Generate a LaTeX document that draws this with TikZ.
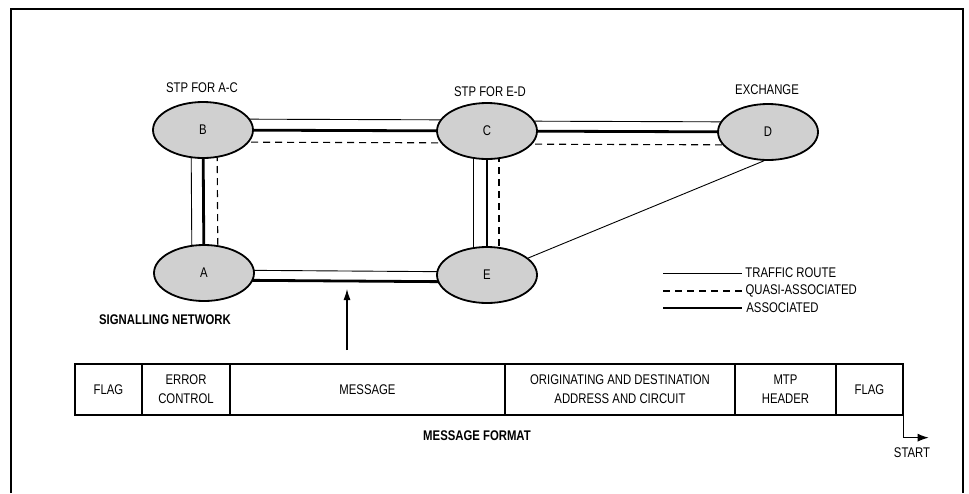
\documentclass[tikz,border=0pt]{standalone}
\usepackage{fontspec}
\setmainfont{Liberation Sans}[FakeStretch=0.81]
\definecolor{SSgray}{HTML}{D0D0D0}
\usetikzlibrary{shapes.geometric, arrows.meta, backgrounds, positioning}

\begin{document}
\begin{tikzpicture}[x=1pt, y=-1pt, font=\fontsize{14}{19}\selectfont,
    exch/.style={ellipse, draw, line width=1.8pt, fill=SSgray,
       minimum width=100pt, minimum height=56pt, inner sep=0pt},
    traffic/.style={line width=0.9pt},
    quasi/.style={line width=1.1pt, dash pattern=on 7pt off 5pt},
    assoc/.style={line width=2.8pt},
    cell/.style={draw, line width=1.3pt, minimum height=51pt,
       inner sep=0pt, align=center}]
   \useasboundingbox (0,0) rectangle (969,493);
   % Frame, open at the foot
   \draw[line width=1.3pt] (11,493) -- (11,9) -- (963,9) -- (963,493);
   % Signalling points
   \node[exch] (B) at (203,130) {B};
   \node[exch] (C) at (487,131) {C};
   \node[exch] (D) at (768,132) {D};
   \node[exch] (A) at (204,273) {A};
   \node[exch] (E) at (487,275) {E};
   \node (lB) at (202,88) {STP FOR A-C};
   \node (lC) at (490,92) {STP FOR E-D};
   \node (lD) at (767,90) {EXCHANGE};
   % Links, behind the ellipses
   \begin{scope}[on background layer]
      \fill[white] (0,0) rectangle (969,493);
      % B - C
      \draw[traffic] ([yshift=11pt]B.center) -- ([yshift=11pt]C.center);
      \draw[assoc] (B.center) -- (C.center);
      \draw[quasi] ([yshift=-12pt]B.center) -- ([yshift=-12pt]C.center);
      % C - D
      \draw[traffic] ([yshift=10pt]C.center) -- ([yshift=10pt]D.center);
      \draw[assoc] (C.center) -- (D.center);
      \draw[quasi] ([yshift=-13pt]C.center) -- ([yshift=-13pt]D.center);
      % B - A
      \draw[traffic] ([xshift=-12pt]B.center) -- ([xshift=-12pt]A.center);
      \draw[assoc] (B.center) -- (A.center);
      \draw[quasi] ([xshift=14pt]B.center) -- ([xshift=14pt]A.center);
      % C - E
      \draw[traffic] ([xshift=-14pt]C.center) -- ([xshift=-14pt]E.center);
      \draw[assoc] (C.center) -- (E.center);
      \draw[quasi] ([xshift=12pt]C.center) -- ([xshift=12pt]E.center);
      % A - E
      \draw[traffic] ([yshift=3pt]A.center) -- ([yshift=3pt]E.center);
      \draw[assoc] ([yshift=-7pt]A.center) -- ([yshift=-7pt]E.center);
   \end{scope}
   % Traffic route E - D
   \draw[traffic] (E) -- (D.262);
   \node (net) at (165,320) {\bfseries SIGNALLING NETWORK};
   % Legend
   \coordinate (k1) at (663,273);
   \coordinate (k2) at (663,291);
   \coordinate (k3) at (663,308);
   \draw[traffic] (k1) -- ++(79,0) node[right, inner sep=3pt] (t1) {TRAFFIC ROUTE};
   \draw[quasi] (k2) -- ++(79,0) node[right, inner sep=3pt] (t2) {QUASI-ASSOCIATED};
   \draw[assoc] (k3) -- ++(79,0) node[right, inner sep=3pt] (t3) {ASSOCIATED};
   % Message format
   \node[cell, minimum width=67pt] (flagL) at (108.5,389.5) {FLAG};
   \node[cell, minimum width=88pt] (err) at (186,389.5) {ERROR\\CONTROL};
   \node[cell, minimum width=275pt] (msg) at (367.5,389.5) {MESSAGE};
   \node[cell, minimum width=230pt] (orig) at (620,389.5)
      {ORIGINATING AND DESTINATION\\ADDRESS AND CIRCUIT};
   \node[cell, minimum width=101pt] (mtp) at (785.5,389.5) {MTP\\HEADER};
   \node[cell, minimum width=67pt] (flagR) at (869.5,389.5) {FLAG};
   \node (fmt) at (477,436) {\bfseries MESSAGE FORMAT};
   % Pointer from the format to the A - E link
   \coordinate (hit) at (347,289);
   \coordinate (tail) at (347,350);
   \draw[-{Latex[length=11pt,width=7pt]}, line width=1.1pt] (tail) -- (hit);
   % Start of transmission
   \draw[-{Latex[length=11pt,width=8pt]}, line width=1.1pt]
      (flagR.south east) -- ++(0,22) -- ++(25,0);
   \node (start) at (912,453) {START};
\end{tikzpicture}
\end{document}
